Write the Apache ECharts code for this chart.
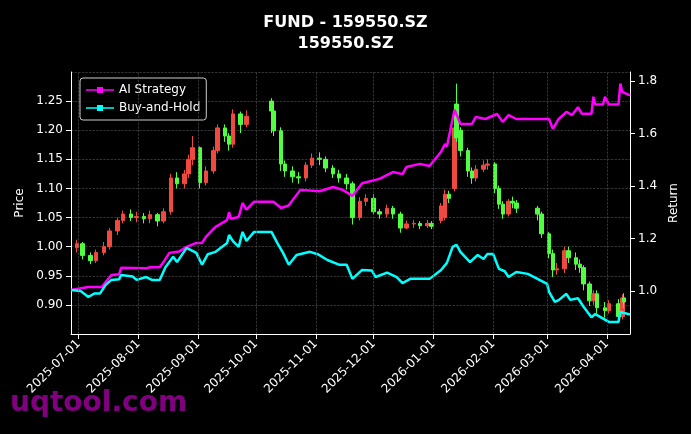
<!DOCTYPE html>
<html><head><meta charset="utf-8">
<script src="https://cdn.jsdelivr.net/npm/echarts@6/dist/echarts.min.js"></script>
<style>html,body{margin:0;padding:0;background:#000}#c{width:691px;height:434px}</style>
</head><body><div id="c"></div>
<script>
const candleDates=['2025-06-30','2025-07-03','2025-07-07','2025-07-10','2025-07-14','2025-07-17','2025-07-21','2025-07-24','2025-07-28','2025-07-31','2025-08-04','2025-08-07','2025-08-11','2025-08-14','2025-08-18','2025-08-21','2025-08-25','2025-08-27','2025-08-29','2025-09-02','2025-09-05','2025-09-09','2025-09-11','2025-09-15','2025-09-17','2025-09-19','2025-09-23','2025-09-26','2025-10-09','2025-10-10','2025-10-14','2025-10-16','2025-10-20','2025-10-23','2025-10-27','2025-10-30','2025-11-03','2025-11-06','2025-11-10','2025-11-13','2025-11-17','2025-11-20','2025-11-24','2025-11-27','2025-12-01','2025-12-04','2025-12-08','2025-12-11','2025-12-15','2025-12-18','2025-12-22','2025-12-25','2025-12-29','2025-12-31','2026-01-05','2026-01-07','2026-01-09','2026-01-12','2026-01-13','2026-01-15','2026-01-19','2026-01-21','2026-01-23','2026-01-27','2026-01-29','2026-02-02','2026-02-04','2026-02-06','2026-02-09','2026-02-11','2026-02-13','2026-02-24','2026-02-26','2026-03-02','2026-03-04','2026-03-06','2026-03-10','2026-03-12','2026-03-16','2026-03-18','2026-03-20','2026-03-23','2026-03-25','2026-03-27','2026-03-31','2026-04-02','2026-04-07','2026-04-09','2026-04-10'];
const opens=[0.998,1.005,0.985,0.976,0.990,1.000,1.027,1.045,1.056,1.050,1.052,1.048,1.055,1.044,1.060,1.118,1.108,1.125,1.150,1.170,1.110,1.130,1.165,1.204,1.190,1.176,1.228,1.210,1.250,1.233,1.199,1.142,1.130,1.120,1.118,1.140,1.152,1.150,1.135,1.125,1.118,1.108,1.050,1.078,1.083,1.060,1.056,1.066,1.056,1.032,1.039,1.040,1.036,1.040,1.045,1.050,1.090,1.100,1.245,1.200,1.165,1.130,1.118,1.133,1.140,1.142,1.100,1.073,1.056,1.078,1.075,1.066,1.056,1.022,0.988,0.960,0.962,0.993,0.981,0.970,0.964,0.936,0.907,0.919,0.895,0.890,0.902,0.880,0.912];
const closes=[1.005,0.985,0.976,0.990,1.000,1.027,1.045,1.056,1.050,1.052,1.048,1.055,1.044,1.060,1.118,1.108,1.125,1.150,1.170,1.110,1.130,1.165,1.204,1.190,1.176,1.228,1.210,1.224,1.233,1.199,1.142,1.130,1.120,1.118,1.140,1.152,1.150,1.135,1.125,1.118,1.108,1.050,1.078,1.083,1.060,1.056,1.066,1.056,1.032,1.039,1.040,1.036,1.040,1.035,1.070,1.090,1.083,1.204,1.187,1.165,1.130,1.118,1.133,1.140,1.142,1.100,1.073,1.056,1.078,1.075,1.066,1.056,1.022,0.988,0.960,0.962,0.993,0.981,0.970,0.964,0.936,0.907,0.919,0.895,0.890,0.902,0.880,0.912,0.905];
const lows=[0.990,0.978,0.970,0.972,0.985,0.995,1.020,1.040,1.044,1.042,1.040,1.040,1.035,1.040,1.055,1.100,1.100,1.118,1.140,1.100,1.105,1.125,1.160,1.180,1.165,1.170,1.195,1.205,1.195,1.190,1.130,1.120,1.110,1.108,1.112,1.135,1.140,1.128,1.118,1.110,1.098,1.038,1.045,1.070,1.055,1.048,1.050,1.048,1.024,1.030,1.032,1.030,1.032,1.030,1.040,1.045,1.075,1.095,1.180,1.155,1.120,1.108,1.112,1.128,1.132,1.092,1.065,1.048,1.052,1.066,1.058,1.045,1.015,0.980,0.948,0.952,0.955,0.972,0.960,0.955,0.925,0.898,0.900,0.885,0.878,0.885,0.870,0.875,0.895];
const highs=[1.012,1.008,0.990,0.995,1.008,1.032,1.050,1.062,1.064,1.060,1.058,1.062,1.058,1.066,1.125,1.128,1.132,1.158,1.190,1.172,1.138,1.172,1.210,1.210,1.195,1.236,1.232,1.234,1.255,1.240,1.205,1.148,1.138,1.128,1.145,1.160,1.162,1.155,1.140,1.132,1.125,1.112,1.085,1.090,1.090,1.065,1.072,1.070,1.060,1.045,1.046,1.044,1.046,1.044,1.075,1.098,1.096,1.210,1.280,1.205,1.170,1.136,1.140,1.148,1.150,1.145,1.105,1.078,1.082,1.086,1.080,1.070,1.060,1.025,0.995,0.972,1.000,1.000,0.990,0.978,0.968,0.940,0.925,0.925,0.905,0.908,0.910,0.918,0.920];

const aiDates=['2025-06-27','2025-07-06','2025-07-13','2025-07-15','2025-07-18','2025-07-22','2025-07-23','2025-08-05','2025-08-07','2025-08-12','2025-08-14','2025-08-17','2025-08-22','2025-08-26','2025-08-31','2025-09-03','2025-09-05','2025-09-10','2025-09-16','2025-09-17','2025-09-18','2025-09-22','2025-09-24','2025-09-26','2025-09-30','2025-10-10','2025-10-14','2025-10-18','2025-10-24','2025-11-03','2025-11-10','2025-11-15','2025-11-20','2025-11-25','2025-12-04','2025-12-11','2025-12-16','2025-12-18','2025-12-25','2025-12-30','2026-01-05','2026-01-07','2026-01-08','2026-01-12','2026-01-15','2026-01-21','2026-01-23','2026-01-28','2026-02-03','2026-02-06','2026-02-09','2026-02-13','2026-03-02','2026-03-04','2026-03-05','2026-03-07','2026-03-11','2026-03-14','2026-03-17','2026-03-19','2026-03-24','2026-03-25','2026-03-26','2026-03-30','2026-03-31','2026-04-02','2026-04-07','2026-04-08','2026-04-09','2026-04-13'];
const aiValues=[1.004,1.015,1.015,1.034,1.061,1.064,1.088,1.086,1.090,1.090,1.110,1.145,1.150,1.168,1.183,1.183,1.206,1.244,1.270,1.300,1.275,1.282,1.335,1.310,1.340,1.340,1.316,1.326,1.385,1.380,1.396,1.385,1.362,1.410,1.427,1.453,1.445,1.472,1.484,1.476,1.530,1.560,1.550,1.690,1.636,1.636,1.663,1.655,1.674,1.644,1.670,1.655,1.655,1.617,1.617,1.655,1.682,1.670,1.700,1.675,1.675,1.740,1.710,1.710,1.740,1.710,1.710,1.790,1.758,1.745];
const bhDates=['2025-06-27','2025-07-02','2025-07-06','2025-07-09','2025-07-12','2025-07-15','2025-07-18','2025-07-22','2025-07-23','2025-07-29','2025-07-31','2025-08-05','2025-08-08','2025-08-12','2025-08-15','2025-08-17','2025-08-19','2025-08-21','2025-08-26','2025-08-31','2025-09-03','2025-09-06','2025-09-10','2025-09-16','2025-09-17','2025-09-19','2025-09-22','2025-09-24','2025-09-26','2025-09-30','2025-10-09','2025-10-12','2025-10-15','2025-10-18','2025-10-22','2025-10-29','2025-11-02','2025-11-07','2025-11-13','2025-11-17','2025-11-20','2025-11-25','2025-11-30','2025-12-02','2025-12-08','2025-12-13','2025-12-16','2025-12-20','2025-12-30','2026-01-05','2026-01-08','2026-01-11','2026-01-13','2026-01-15','2026-01-20','2026-01-24','2026-01-27','2026-01-29','2026-02-01','2026-02-04','2026-02-07','2026-02-09','2026-02-13','2026-02-19','2026-03-01','2026-03-02','2026-03-05','2026-03-07','2026-03-11','2026-03-13','2026-03-17','2026-03-20','2026-03-24','2026-03-26','2026-04-02','2026-04-07','2026-04-08','2026-04-13'];
const bhValues=[1.004,1.000,0.977,0.990,0.990,1.023,1.042,1.045,1.061,1.055,1.042,1.053,1.042,1.042,1.090,1.110,1.130,1.110,1.164,1.145,1.100,1.140,1.149,1.183,1.213,1.190,1.168,1.225,1.190,1.225,1.225,1.183,1.145,1.100,1.137,1.149,1.140,1.118,1.100,1.100,1.046,1.080,1.078,1.053,1.070,1.053,1.030,1.046,1.046,1.080,1.107,1.168,1.176,1.149,1.110,1.137,1.122,1.141,1.141,1.084,1.075,1.053,1.072,1.065,1.027,0.996,0.958,0.965,0.989,0.966,0.972,0.939,0.900,0.912,0.882,0.882,0.920,0.910];
const monthTicks=['2025-07-01','2025-08-01','2025-09-01','2025-10-01','2025-11-01','2025-12-01','2026-01-01','2026-02-01','2026-03-01','2026-04-01'];
const returnTicks=[1.0,1.2,1.4,1.6,1.8];

const ts=s=>Date.UTC(+s.slice(0,4),+s.slice(5,7)-1,+s.slice(8,10));
const pad=n=>String(n).padStart(2,'0');
const fmt=v=>{const d=new Date(v);return d.getUTCFullYear()+'-'+pad(d.getUTCMonth()+1)+'-'+pad(d.getUTCDate());};
const F='DejaVu Sans';
const grid={color:'#555',type:'dashed',width:0.6};
const chart=echarts.init(document.getElementById('c'));
chart.setOption({
  backgroundColor:'#000',
  animation:false,
  title:{text:'FUND - 159550.SZ\n159550.SZ',left:'center',top:7,textStyle:{color:'#fff',fontFamily:F,fontWeight:'bold',fontSize:16,lineHeight:21}},
  graphic:[{type:'text',left:10,top:390,z:100,style:{text:'uqtool.com',fill:'rgba(150,0,150,0.85)',font:'bold 28px "DejaVu Sans"'}}],
  legend:{left:80,top:78,orient:'vertical',itemGap:6,padding:[6,6,6,6],borderColor:'#ccc',borderWidth:1,borderRadius:3,backgroundColor:'rgba(0,0,0,0.8)',
    textStyle:{color:'#fff',fontFamily:F,fontSize:12},itemWidth:28,itemHeight:8,
    data:[{name:'AI Strategy',icon:'path://M0,4.3 L28,4.3 L28,5.7 L0,5.7 Z M11,2 L17,2 L17,8 L11,8 Z'},{name:'Buy-and-Hold',icon:'path://M0,4.3 L28,4.3 L28,5.7 L0,5.7 Z M11,2 L17,2 L17,8 L11,8 Z'}]},
  grid:{left:71,right:61,top:72,bottom:100},
  xAxis:{type:'value',min:ts('2025-06-27'),max:ts('2026-04-13'),
    axisLine:{lineStyle:{color:'#fff'}},
    axisTick:{show:true,customValues:monthTicks.map(ts),lineStyle:{color:'#fff'}},
    axisLabel:{customValues:monthTicks.map(ts),formatter:v=>fmt(v),rotate:45,color:'#fff',fontFamily:F,fontSize:12,margin:8},
    splitLine:{show:false}},
  yAxis:[
    {type:'value',min:0.85,max:1.30,interval:0.05,name:'Price',nameLocation:'middle',nameGap:40,nameTextStyle:{color:'#fff',fontFamily:F,fontSize:12},
     axisLine:{show:true,lineStyle:{color:'#fff'}},axisTick:{show:true,lineStyle:{color:'#fff'}},
     axisLabel:{color:'#fff',fontFamily:F,fontSize:12,showMinLabel:false,showMaxLabel:false,formatter:v=>v.toFixed(2)},
     splitLine:{show:true,lineStyle:grid}},
    {type:'value',min:0.836,max:1.834,name:'Return',nameLocation:'middle',nameGap:38,nameTextStyle:{color:'#fff',fontFamily:F,fontSize:12},
     axisLine:{show:true,lineStyle:{color:'#fff'}},axisTick:{show:true,customValues:returnTicks,lineStyle:{color:'#fff'}},
     axisLabel:{customValues:returnTicks,color:'#fff',fontFamily:F,fontSize:12,formatter:v=>v.toFixed(1)},splitLine:{show:false}}
  ],
  series:[
    {type:'candlestick',name:'Price',yAxisIndex:0,barWidth:4,
     itemStyle:{color:'#f04a40',color0:'#50ff40',borderColor:'#f04a40',borderColor0:'#50ff40',borderWidth:1},
     markLine:{silent:true,symbol:'none',label:{show:false},lineStyle:grid,data:monthTicks.map(m=>({xAxis:ts(m)}))},
     data:candleDates.map((d,i)=>[ts(d),opens[i],closes[i],lows[i],highs[i]])},
    {type:'line',name:'AI Strategy',yAxisIndex:1,showSymbol:false,symbol:'rect',color:'#ff00ff',lineStyle:{width:2.5,color:'#ff00ff'},
     data:aiDates.map((d,i)=>[ts(d),aiValues[i]])},
    {type:'line',name:'Buy-and-Hold',yAxisIndex:1,showSymbol:false,symbol:'rect',color:'#00ffff',lineStyle:{width:2.5,color:'#00ffff'},
     data:bhDates.map((d,i)=>[ts(d),bhValues[i]])}
  ]
});
</script></body></html>
